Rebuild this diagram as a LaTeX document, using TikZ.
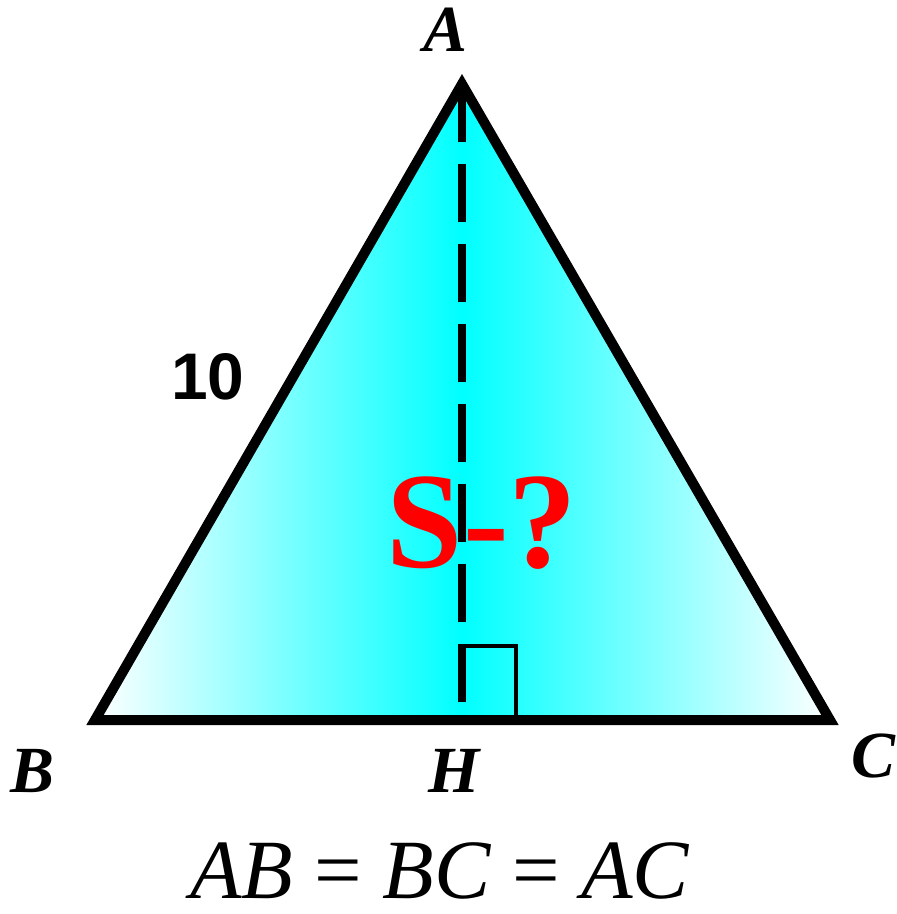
\documentclass[tikz,border=0pt]{standalone}
\usepackage{fontspec}
\setmainfont{Liberation Serif}
\newfontfamily\sidefont{Liberation Sans}
\usetikzlibrary{positioning}

\begin{document}
\begin{tikzpicture}[
    x=0.02cm, y=-0.02cm,
    side/.style={line width=5.7pt, line join=miter},
    altitude/.style={line width=4pt, dash pattern=on 33pt off 12.5pt},
    rightmark/.style={line width=2.8pt},
    vertex/.style={inner sep=0pt, font=\fontsize{37.5}{40}\selectfont\bfseries\itshape},
    sidelbl/.style={inner sep=0pt, font=\fontsize{37.5}{40}\sidefont\bfseries},
    question/.style={inner sep=0pt, text=red, font=\fontsize{78}{80}\selectfont\bfseries},
    equality/.style={inner sep=0pt, font=\fontsize{48}{52}\selectfont},
]
\useasboundingbox (0,0) rectangle (897,914);

% ── Vertices ──
\coordinate (A) at (462,84);
\coordinate (B) at (95,720);
\coordinate (C) at (830,720);
\coordinate (H) at (462,720);

% ── Triangle ──
\shade[left color=white, right color=white, middle color=cyan] (A) -- (B) -- (C) -- cycle;
\draw[altitude] (A) -- (H);
\draw[rightmark] (H) ++(0,-74) -- ++(54,0) -- ++(0,74);
\draw[side] (A) -- (B) -- (C) -- cycle;

% ── Labels ──
\node[vertex] (lblA) at (445,30) {A};
\node[vertex] (lblB) at (32,771) {B};
\node[vertex] (lblH) at (454,771) {H};
\node[vertex] (lblC) at (873,756) {C};
\node[sidelbl] (lblAB) at (208,377) {10};
\node[question, anchor=base] (area) at (482,567) {S-?};
\node[equality, anchor=base] (cond) at (440,898) {\textit{AB} = \textit{BC} = \textit{AC}};

\end{tikzpicture}
\end{document}
